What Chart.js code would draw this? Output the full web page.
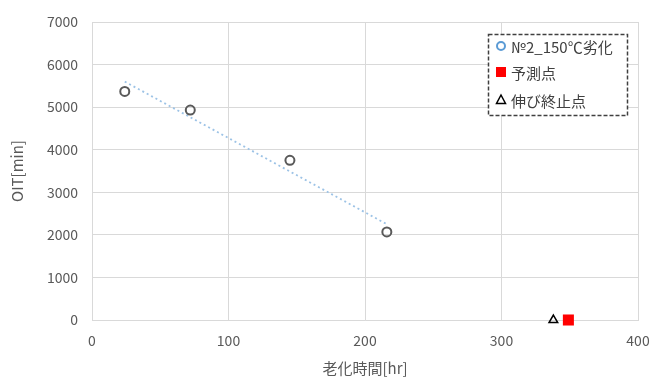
<!DOCTYPE html>
<html>
<head>
<meta charset="utf-8">
<script src="https://cdn.jsdelivr.net/npm/chart.js@4/dist/chart.umd.min.js"></script>
<style>
html,body{margin:0;padding:0;background:#fff;}
#wrap{width:655px;height:378px;position:relative;}
</style>
</head>
<body>
<div id="wrap"><canvas id="c" width="655" height="378"></canvas></div>
<script>
// ---- data ----
const agingHours = [24, 72, 145, 216];
const oitMinutes = [5370, 4930, 3750, 2070];
const trendHours = [24, 216];
const trendOit = [5600, 2250];
const predictHours = [349];
const predictOit = [0];
const elongEndHours = [338];
const elongEndOit = [0];
const xTicks = [0, 100, 200, 300, 400];
const yTicks = [0, 1000, 2000, 3000, 4000, 5000, 6000, 7000];
const legendLabels = ['№2_150℃劣化', '予測点', '伸び終止点'];
const xTitle = '老化時間[hr]';
const yTitle = 'OIT[min]';

const FONT = '"Noto Sans CJK JP", "Noto Sans", sans-serif';
const toPts = (xs, ys) => xs.map((x, i) => ({x: x, y: ys[i]}));

const boxLegend = {
  id: 'boxLegend',
  afterDraw(chart) {
    const ctx = chart.ctx;
    const left = 488, top = 34, right = 627, bottom = 115;
    ctx.save();
    ctx.fillStyle = '#ffffff';
    ctx.fillRect(left, top, right - left, bottom - top);
    ctx.setLineDash([4, 2]);
    ctx.strokeStyle = '#404040';
    ctx.lineWidth = 1.5;
    ctx.strokeRect(left + 0.5, top + 0.5, right - left, bottom - top);
    ctx.setLineDash([]);
    const rows = [46, 72, 100];
    const mx = 501;
    ctx.beginPath();
    ctx.arc(mx, rows[0], 4, 0, Math.PI * 2);
    ctx.strokeStyle = '#5B9BD5';
    ctx.lineWidth = 2;
    ctx.stroke();
    ctx.fillStyle = '#FF0000';
    ctx.fillRect(mx - 5, rows[1] - 5, 10, 10);
    ctx.beginPath();
    ctx.moveTo(mx, rows[2] - 5);
    ctx.lineTo(mx + 4.5, rows[2] + 3.5);
    ctx.lineTo(mx - 4.5, rows[2] + 3.5);
    ctx.closePath();
    ctx.strokeStyle = '#000000';
    ctx.lineWidth = 1.5;
    ctx.stroke();
    ctx.fillStyle = '#404040';
    ctx.font = '15px ' + FONT;
    ctx.textBaseline = 'middle';
    ctx.textAlign = 'left';
    legendLabels.forEach((t, i) => ctx.fillText(t, 511, rows[i] + 1));
    ctx.restore();
  }
};

new Chart(document.getElementById('c'), {
  type: 'scatter',
  data: {
    datasets: [
      {
        label: 'trend',
        data: toPts(trendHours, trendOit),
        showLine: true,
        borderColor: '#9DC3E6',
        borderWidth: 1.8,
        borderDash: [2, 3],
        pointRadius: 0,
        order: 3
      },
      {
        label: legendLabels[0],
        data: toPts(agingHours, oitMinutes),
        pointStyle: 'circle',
        pointRadius: 4.5,
        pointBorderWidth: 2,
        borderColor: '#595959',
        backgroundColor: 'rgba(255,255,255,0)',
        order: 1
      },
      {
        label: legendLabels[1],
        data: toPts(predictHours, predictOit),
        pointStyle: 'rect',
        pointRadius: 7.8,
        pointBorderWidth: 0,
        borderColor: '#FF0000',
        backgroundColor: '#FF0000',
        clip: false,
        order: 0
      },
      {
        label: legendLabels[2],
        data: toPts(elongEndHours, elongEndOit),
        pointStyle: 'triangle',
        pointRadius: 5,
        pointBorderWidth: 1.5,
        borderColor: '#000000',
        backgroundColor: 'rgba(255,255,255,0)',
        clip: false,
        order: 0
      }
    ]
  },
  options: {
    responsive: false,
    animation: false,
    devicePixelRatio: 1,
    layout: {padding: {left: 0, right: 17, top: 22, bottom: 0}},
    plugins: {legend: {display: false}, tooltip: {enabled: false}},
    scales: {
      x: {
        type: 'linear',
        min: xTicks[0],
        max: xTicks[xTicks.length - 1],
        afterBuildTicks(s) { s.ticks = xTicks.map(v => ({value: v})); },
        afterFit(s) { s.height = 58; s.paddingRight = 0; s.paddingLeft = 0; },
        grid: {color: '#D9D9D9', lineWidth: 1, drawTicks: false},
        border: {color: '#D9D9D9', width: 1},
        ticks: {color: '#595959', font: {family: FONT, size: 14}, padding: 12, maxRotation: 0, callback: v => String(v)},
        title: {display: true, text: xTitle, color: '#595959', font: {family: FONT, size: 15}, padding: {top: 0, bottom: 1}}
      },
      y: {
        type: 'linear',
        min: yTicks[0],
        max: yTicks[yTicks.length - 1],
        afterBuildTicks(s) { s.ticks = yTicks.map(v => ({value: v})); },
        afterFit(s) { s.width = 92; s.paddingTop = 0; s.paddingBottom = 0; },
        grid: {color: '#D9D9D9', lineWidth: 1, drawTicks: false},
        border: {color: '#D9D9D9', width: 1},
        ticks: {color: '#595959', font: {family: FONT, size: 14}, padding: 14, callback: v => String(v)},
        title: {display: true, text: yTitle, color: '#595959', font: {family: FONT, size: 15}, padding: {top: 8, bottom: 0}}
      }
    }
  },
  plugins: [boxLegend]
});
</script>
</body>
</html>
